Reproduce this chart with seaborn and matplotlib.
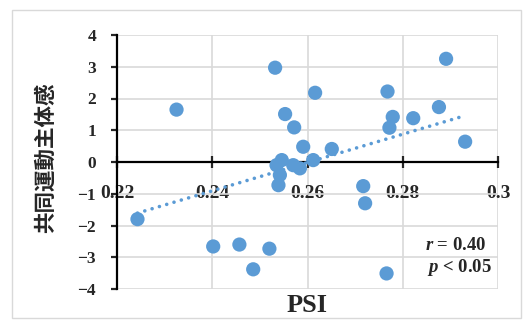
import numpy as np
import pandas as pd
import matplotlib
matplotlib.use("Agg")
import matplotlib.pyplot as plt
import seaborn as sns
from matplotlib.patches import Rectangle

# PSI vs 共同運動主体感
psi = [0.2243, 0.2325, 0.2402, 0.2457, 0.2486, 0.2520, 0.2532, 0.2535,
       0.2546, 0.2542, 0.2539, 0.2553, 0.2572, 0.2570, 0.2584, 0.2591,
       0.2612, 0.2616, 0.2651, 0.2717, 0.2721, 0.2766, 0.2768, 0.2772,
       0.2779, 0.2822, 0.2876, 0.2891, 0.2931]
agency = [-1.80, 1.65, -2.66, -2.60, -3.38, -2.73, 2.97, -0.10,
          0.06, -0.41, -0.73, 1.51, 1.09, -0.10, -0.20, 0.48,
          0.06, 2.18, 0.41, -0.76, -1.30, -3.51, 2.22, 1.08,
          1.42, 1.38, 1.73, 3.25, 0.64]
x_ticks = [0.22, 0.24, 0.26, 0.28, 0.30]
x_labels = ["0.22", "0.24", "0.26", "0.28", "0.3"]
y_ticks = [-4, -3, -2, -1, 0, 1, 2, 3, 4]
stats_lines = [r"$\mathit{r}$ = 0.40", r"$\mathit{p}$ < 0.05"]

df = pd.DataFrame({"PSI": psi, "agency": agency})
blue = "#5B9BD5"

sns.set_style("white")
plt.rcParams["font.family"] = ["Liberation Serif"]
plt.rcParams["font.weight"] = "bold"
plt.rcParams["mathtext.fontset"] = "custom"
plt.rcParams["mathtext.it"] = "Liberation Serif:italic:bold"
plt.rcParams["mathtext.rm"] = "Liberation Serif:bold"

fig = plt.figure(figsize=(5.32, 3.22), dpi=100)
ax = fig.add_axes([117/532, 1-289/322, 381/532, 254/322])

sns.scatterplot(data=df, x="PSI", y="agency", color=blue, s=105,
                edgecolor="none", ax=ax, zorder=3)
sns.regplot(data=df, x="PSI", y="agency", scatter=False, ci=None, ax=ax,
            line_kws=dict(color=blue, lw=2.6, ls=(0, (0.01, 2.1)),
                          dash_capstyle="round", zorder=4))

ax.set_xlim(0.22, 0.30)
ax.set_ylim(-4, 4)
ax.set_xticks(x_ticks)
ax.set_xticklabels(x_labels)
ax.set_yticks(y_ticks)
ax.set_axisbelow(True)
ax.grid(True, color="#d9d9d9", lw=1.2)
for s in ["top", "right"]:
    ax.spines[s].set_visible(False)
ax.spines["bottom"].set_position(("data", 0))
for s in ["left", "bottom"]:
    ax.spines[s].set_color("black")
    ax.spines[s].set_linewidth(1.6)
ax.tick_params(axis="x", direction="inout", length=9, width=1.6,
               pad=12, labelsize=14, bottom=True)
ax.tick_params(axis="y", direction="out", length=4, width=1.6,
               pad=11, labelsize=12.5, left=True)
ax.set_xlabel("")
ax.set_ylabel("")

ax.text(0.971, 0.173, stats_lines[0], transform=ax.transAxes,
        ha="right", va="center", fontsize=13.5)
ax.text(0.983, 0.083, stats_lines[1], transform=ax.transAxes,
        ha="right", va="center", fontsize=13.5)

fig.text(307.5/532, 1-306/322, "PSI", ha="center", va="center",
         fontsize=19, fontweight="bold")
fig.text(45/532, 1-158/322, "共同運動主体感", rotation=90, ha="center",
         va="center", fontsize=15.5, fontweight="bold",
         family=["Noto Sans CJK JP", "DejaVu Sans"])

fig.patches.append(Rectangle((12/532, 4/322), 509/532, 308/322,
                             transform=fig.transFigure, fill=False,
                             edgecolor="#d9d9d9", lw=1))

fig.savefig("out.png", dpi=100)
